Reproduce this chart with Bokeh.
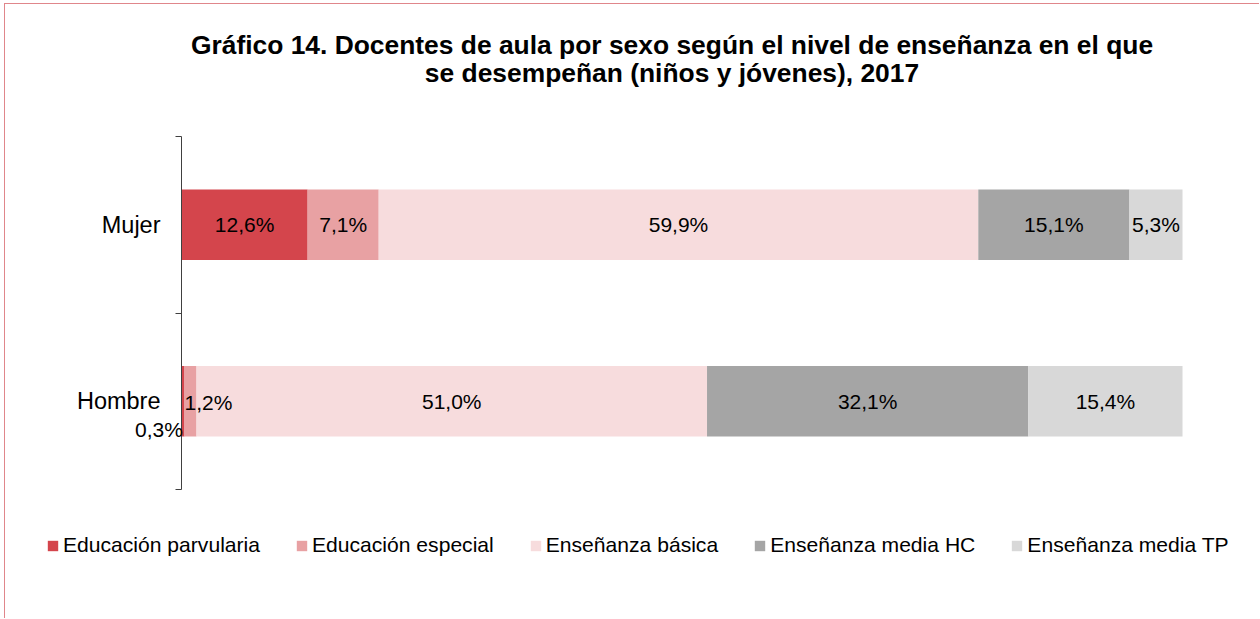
from bokeh.plotting import figure
from bokeh.models import (ColumnDataSource, Range1d, FixedTicker, LabelSet, Label,
                          Legend, LegendItem)
from bokeh.core.properties import value
from bokeh.embed import file_html
from bokeh.resources import INLINE

# ---- data ----
title_line1 = "Gráfico 14. Docentes de aula por sexo según el nivel de enseñanza en el que"
title_line2 = "se desempeñan (niños y jóvenes), 2017"
sexes = ["Hombre", "Mujer"]
levels = ["Educación parvularia", "Educación especial", "Enseñanza básica",
          "Enseñanza media HC", "Enseñanza media TP"]
mujer = [12.6, 7.1, 59.9, 15.1, 5.3]
hombre = [0.3, 1.2, 51.0, 32.1, 15.4]

# ---- styles / geometry ----
colors = ["#D4454C", "#E8A1A3", "#F7DCDD", "#A5A5A5", "#D8D8D8"]
FONT = "Liberation Sans"
W, H = 1255, 615                 # canvas size
PLOT_L, PLOT_R = 176, 1177       # pixel span of 0..100 % on the canvas
PLOT_T, PLOT_B = 132, 485        # pixel span of the category band
# screen nudges (dx, dy_down) for labels that were moved off their segment
nudges = {("Hombre", "Educación parvularia"): (-24, 28),
          ("Hombre", "Educación especial"): (18, 1)}

values_by_sex = {"Hombre": hombre, "Mujer": mujer}
ypos = {s: i + 0.5 for i, s in enumerate(sexes)}
ncat = len(sexes)

xs = 100.0 / (PLOT_R - PLOT_L)
ys_ = ncat / (PLOT_B - PLOT_T)
x_range = Range1d(-PLOT_L * xs, 100 + (W - PLOT_R) * xs)
y_range = Range1d(-(H - PLOT_B) * ys_, ncat + PLOT_T * ys_)

p = figure(width=W, height=H, x_range=x_range, y_range=y_range,
           output_backend="svg", toolbar_location=None, x_axis_location=None,
           min_border=0)
p.styles = {"margin-left": "4px", "margin-top": "3px",
            "border-left": "1px solid #E0868B", "border-top": "1px solid #E0868B"}
p.outline_line_color = None
p.grid.visible = False
p.background_fill_color = "white"
p.border_fill_color = "white"

ax = p.yaxis[0]
ax.fixed_location = 0
ax.bounds = (0, ncat)
ax.ticker = FixedTicker(ticks=[ypos[s] for s in sexes], minor_ticks=list(range(ncat + 1)))
ax.major_label_overrides = {ypos[s]: s for s in sexes}
ax.major_tick_out = 0
ax.major_tick_in = 0
ax.minor_tick_out = 6
ax.minor_tick_in = 0
ax.axis_line_color = "#404040"
ax.minor_tick_line_color = "#404040"
ax.major_label_standoff = 15
ax.major_label_text_font = FONT
ax.major_label_text_font_size = "23.5px"
ax.major_label_text_color = "black"

items = []
lx, ly, lt, lxo, lyo = [], [], [], [], []
for i, lev in enumerate(levels):
    ys, lefts, rights = [], [], []
    for s in sexes:
        vals = values_by_sex[s]
        left = sum(vals[:i])
        ys.append(ypos[s])
        lefts.append(left)
        rights.append(left + vals[i])
        lx.append(left + vals[i] / 2)
        ly.append(ypos[s])
        lt.append(f"{vals[i]:.1f}".replace(".", ",") + "%")
        dx, dy = nudges.get((s, lev), (0, 0))
        lxo.append(dx)
        lyo.append(-dy)
    src = ColumnDataSource(dict(y=ys, left=lefts, right=rights))
    r = p.hbar(y="y", left="left", right="right", height=0.40, source=src,
               fill_color=colors[i], line_color=None)
    items.append(LegendItem(label=lev, renderers=[r]))

lab_src = ColumnDataSource(dict(x=lx, y=ly, text=lt, xo=lxo, yo=lyo))
labels = LabelSet(x="x", y="y", text="text", x_offset="xo", y_offset="yo",
                  source=lab_src, text_align="center", text_baseline="middle",
                  text_font=value(FONT), text_font_size="21px", text_color="black")
p.add_layout(labels)

legend = Legend(items=items, orientation="horizontal", location=(41, 62),
                glyph_width=13, glyph_height=13, label_standoff=4, spacing=35,
                label_height=24, padding=0, margin=0, border_line_color=None,
                background_fill_alpha=0, label_text_font=FONT,
                label_text_font_size="21.1px", label_text_color="black")
p.add_layout(legend)

p.add_layout(Label(x=665.5, y=39, x_units="canvas", y_units="canvas", text=title_line1,
                   text_align="center", text_baseline="alphabetic", text_font=FONT,
                   text_font_size="26.4px", text_font_style="bold", text_color="black"))
p.add_layout(Label(x=665.5, y=67, x_units="canvas", y_units="canvas", text=title_line2,
                   text_align="center", text_baseline="alphabetic", text_font=FONT,
                   text_font_size="26.4px", text_font_style="bold", text_color="black"))

open("out.html", "w").write(file_html(p, INLINE))
